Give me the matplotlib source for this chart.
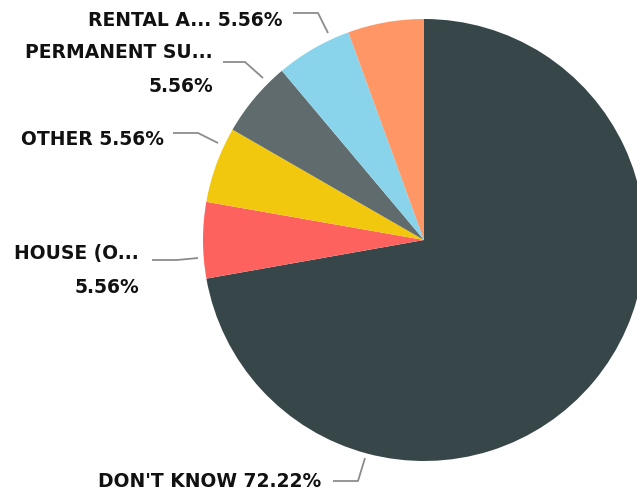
import matplotlib.pyplot as plt

categories = ["DON'T KNOW", "HOUSE (O...", "OTHER", "PERMANENT SU...", "RENTAL A...", "(hidden)"]
values = [72.22, 5.56, 5.56, 5.56, 5.56, 5.56]
colors = ['#374649', '#FD625E', '#F2C80F', '#5F6B6D', '#8AD4EB', '#FE9666']

W, H = 637, 501
fig = plt.figure(figsize=(W / 100, H / 100), dpi=100)
ax = fig.add_axes([0, 0, 1, 1])

cx, cy, r = 424, H - 240, 221
ax.pie(values, colors=colors, startangle=90, counterclock=False,
       center=(cx, cy), radius=r, wedgeprops=dict(linewidth=0))
ax.set_xlim(0, W)
ax.set_ylim(0, H)
ax.set_aspect('equal')
ax.axis('off')

# label layout: text anchor (right edge, baseline of last line in px), leader line points in px
layout = {
    "DON'T KNOW": dict(text=(321, 487), two=False, line=[(333, 481), (358, 481), (365, 458)]),
    "HOUSE (O...": dict(text=(139, 293), two=True, line=[(152, 260), (177, 260), (198, 258)]),
    "OTHER": dict(text=(164, 145), two=False, line=[(173, 133), (198, 133), (218, 143)]),
    "PERMANENT SU...": dict(text=(213, 92), two=True, line=[(223, 62), (245, 62), (263, 78)]),
    "RENTAL A...": dict(text=(283, 26), two=False, line=[(293, 13), (318, 13), (328, 33)]),
}

for name, val in zip(categories, values):
    if name not in layout:
        continue
    lay = layout[name]
    sep = '\n' if lay['two'] else ' '
    label = f"{name}{sep}{val:.2f}%"
    tx, ty = lay['text']
    ax.text(tx, H - ty, label, ha='right', va='baseline', multialignment='right',
            fontsize=13.5, fontweight='bold', family='DejaVu Sans', color='#111111',
            linespacing=2.0)
    xs = [p[0] for p in lay['line']]
    ys = [H - p[1] for p in lay['line']]
    ax.plot(xs, ys, color='#8c8c8c', linewidth=1.3, solid_capstyle='butt')

fig.savefig('out.png', dpi=100)
